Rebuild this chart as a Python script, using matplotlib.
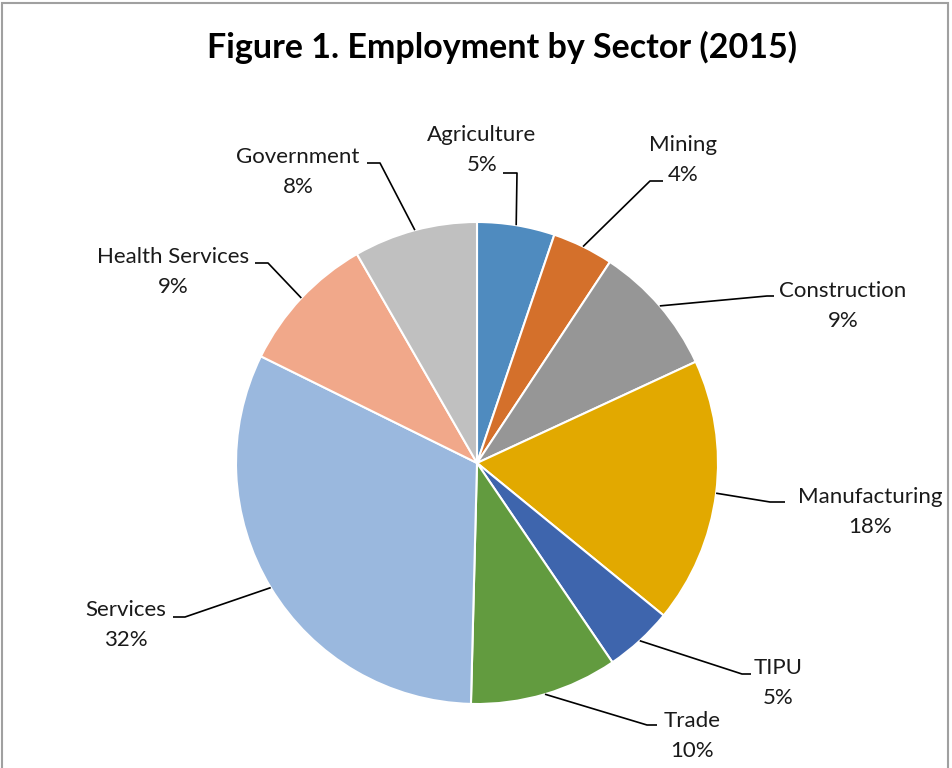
import matplotlib.pyplot as plt
from matplotlib.patches import Rectangle
import numpy as np

# data
sectors = ["Agriculture", "Mining", "Construction", "Manufacturing", "TIPU",
           "Trade", "Services", "Health Services", "Government"]
shares = [5.2, 4.1, 8.8, 17.8, 4.6, 9.9, 31.9, 9.4, 8.3]
colors = ["#4F8BBF", "#D4702B", "#969696", "#E2A900", "#3E65AD",
          "#629B3F", "#9AB8DE", "#F1A88A", "#C0C0C0"]

# layout (pixels, top-left origin): label centre, elbow, end of leader
label_pos = [(482, 150), (683, 160), (843, 306), (870, 512), (778, 683),
             (692, 736), (126, 625), (173, 272), (298, 172)]
elbows = [(517, 173), (650, 181), (767, 296), (770, 502), (742, 674),
          (647, 725), (185, 617), (268, 263), (380, 163)]
ends = [(503, 173), (663, 181), (774, 296), (785, 502), (751, 674),
        (657, 725), (173, 617), (255, 263), (367, 163)]

W, H = 953, 768
CX, CY, R = 477, 463, 241

plt.rcParams['font.family'] = ['Lato', 'DejaVu Sans']

fig = plt.figure(figsize=(W / 100, H / 100), dpi=100)
ax = fig.add_axes([0, 0, 1, 1])
ax.axis('off')


def px(x, y):
    return x, H - y


wedges, _ = ax.pie(shares, colors=colors, startangle=90, counterclock=False,
                   center=px(CX, CY), radius=R,
                   wedgeprops=dict(edgecolor='white', linewidth=1.5))
ax.set_xlim(0, W)
ax.set_ylim(0, H)
ax.set_aspect('equal')

total = sum(shares)
for w, name, val, lp, el, en in zip(wedges, sectors, shares, label_pos, elbows, ends):
    mid = np.deg2rad((w.theta1 + w.theta2) / 2)
    sx = CX + R * np.cos(mid)
    sy = CY - R * np.sin(mid)
    xs = [sx, el[0], en[0]]
    ys = [H - sy, H - el[1], H - en[1]]
    ax.plot(xs, ys, color='black', linewidth=1.2, solid_capstyle='butt')
    pct = round(val / total * 100)
    ax.text(*px(*lp), f"{name}\n{pct}%", ha='center', va='center',
            fontsize=16, linespacing=1.62, color='#1a1a1a')

ax.text(*px(502, 47), "Figure 1. Employment by Sector (2015)", ha='center',
        va='center', fontsize=24.5, fontweight='bold', color='black')

fig.patches.append(Rectangle((2, -10), 946, H - 3 + 10, transform=None,
                             fill=False, edgecolor='#A0A0A0', linewidth=1.5))

fig.savefig("out.png", dpi=100)
